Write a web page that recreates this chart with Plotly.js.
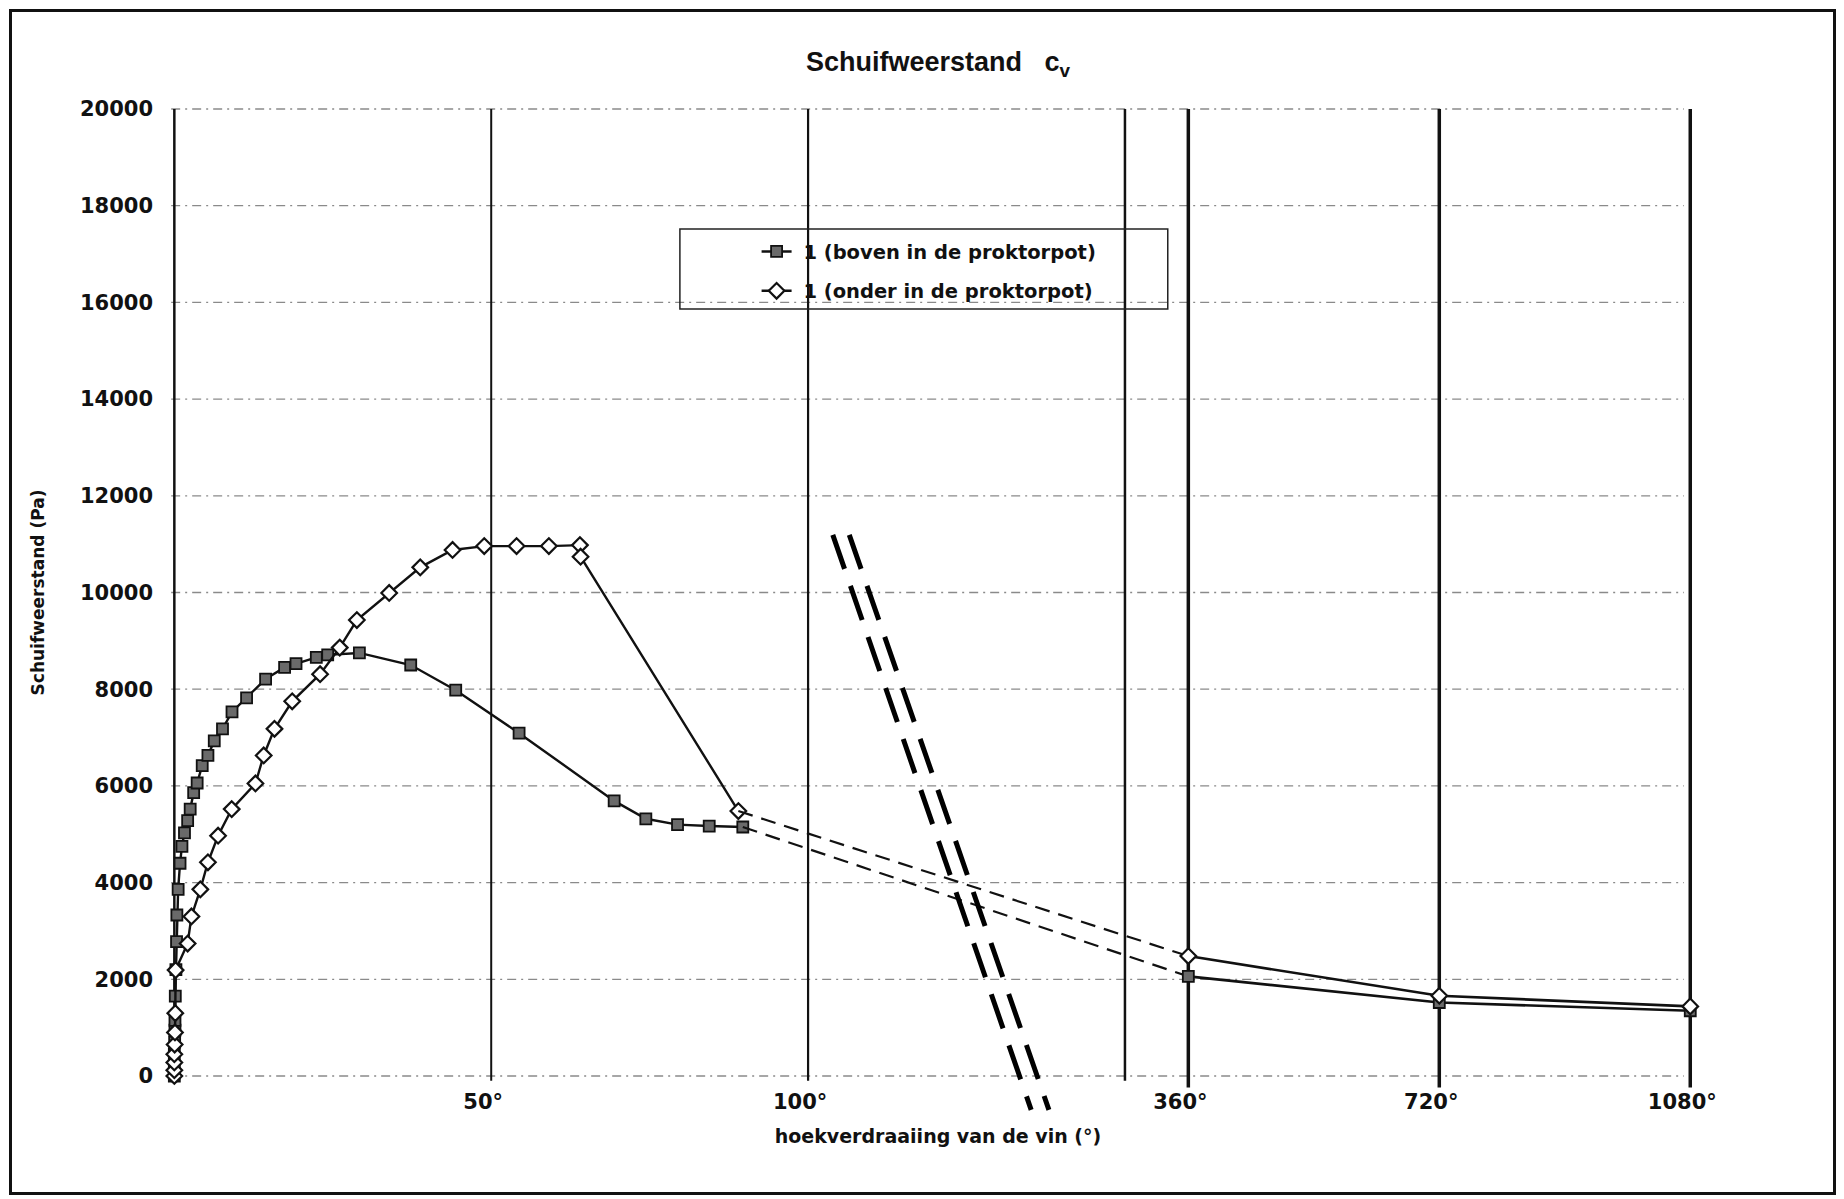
<!DOCTYPE html>
<html>
<head>
<meta charset="utf-8">
<script src="https://cdn.plot.ly/plotly-3.0.1.min.js"></script>
<style>
  html, body { margin: 0; padding: 0; background: #fff; }
  #chart { width: 1844px; height: 1199px; }
  #frame { position: absolute; left: 9px; top: 9px; width: 1827px; height: 1186px;
           box-sizing: border-box; border: 3px solid #111; pointer-events: none; }
</style>
</head>
<body>
<div id="chart"></div>
<div id="frame"></div>
<script>
// ---------------- data ----------------
// series 1: boven in de proktorpot (squares)
const angleBoven = [0, 0, 0, 0.05, 0.1, 0.1, 0.15, 0.25, 0.35, 0.4,
                    0.6, 0.9, 1.2, 1.6, 2.1, 2.5, 3.05, 3.6, 4.4, 5.3,
                    6.3, 7.6, 9.1, 11.4, 14.4, 17.4, 19.2, 22.4, 24.2, 29.2,
                    37.3, 44.4, 54.4, 69.4, 74.4, 79.4, 84.4, 89.7,
                    360, 720, 1080];
const shearBoven = [0, 200, 450, 700, 950, 1150, 1650, 2200, 2780, 3330,
                    3860, 4400, 4750, 5030, 5280, 5520, 5860, 6060, 6420, 6630,
                    6930, 7180, 7530, 7820, 8210, 8450, 8530, 8660, 8710, 8750,
                    8500, 7980, 7090, 5690, 5320, 5200, 5170, 5150,
                    2060, 1520, 1350];
// series 2: onder in de proktorpot (diamonds)
const angleOnder = [0, 0, 0, 0, 0.05, 0.1, 0.15, 0.2,
                    2.1, 2.7, 4.1, 5.3, 6.9, 9.05, 12.8, 14.1, 15.8, 18.6,
                    23.0, 26.1, 28.8, 33.9, 38.8, 43.9, 48.9, 54.0, 59.1, 64.0,
                    64.1, 89.0,
                    360, 720, 1080];
const shearOnder = [0, 120, 280, 450, 650, 900, 1300, 2190,
                    2740, 3300, 3860, 4420, 4970, 5520, 6050, 6630, 7180, 7750,
                    8310, 8860, 9430, 9990, 10520, 10880, 10960, 10960, 10960, 10980,
                    10740, 5480,
                    2480, 1660, 1440];
const seriesNames = ['1 (boven in de proktorpot)', '1 (onder in de proktorpot)'];

// axis ticks
const yTicks = [0, 2000, 4000, 6000, 8000, 10000, 12000, 14000, 16000, 18000, 20000];
const yTickText = ['0', '2000', '4000', '6000', '8000', '10000', '12000', '14000', '16000', '18000', '20000'];
const angleTicks = [50, 100, 360, 720, 1080];
const angleTickText = ['50°', '100°', '360°', '720°', '1080°'];
const lineAngles = [0, 50, 100, 360, 720, 1080];
const breakPos = 150;          // axis position of the break line

// ---------------- broken angle scale ----------------
// 0..100 deg linear, then 360/720/1080 after the break (39.6 units per 360 deg)
function axisPos(deg) { return deg <= 100 ? deg : 160 + (deg - 360) * 0.11; }
const Y_MIN = 0, Y_MAX = 20000;
function yPaper(v) { return (v - Y_MIN) / (Y_MAX - Y_MIN); }

function split(ang, val) {
  const pre = {x: [], y: []}, post = {x: [], y: []};
  ang.forEach((a, i) => {
    const t = a <= 100 ? pre : post;
    t.x.push(axisPos(a)); t.y.push(val[i]);
  });
  return {pre, post};
}

const FONT = 'DejaVu Sans, sans-serif';
const styles = [
  {marker: {symbol: 'square', size: 11, color: '#6a6a6a', line: {color: '#111', width: 1.8}}},
  {marker: {symbol: 'diamond', size: 12, color: '#ffffff', line: {color: '#111', width: 2.2}}}
];

const traces = [];
[[angleBoven, shearBoven], [angleOnder, shearOnder]].forEach((s, k) => {
  const p = split(s[0], s[1]);
  traces.push({x: p.pre.x, y: p.pre.y, mode: 'lines+markers', name: '&nbsp;' + seriesNames[k],
    legendgroup: 'g' + k, line: {color: '#111', width: 2.4}, marker: styles[k].marker,
    cliponaxis: false});
  traces.push({x: [p.pre.x[p.pre.x.length - 1], p.post.x[0]],
    y: [p.pre.y[p.pre.y.length - 1], p.post.y[0]], mode: 'lines', showlegend: false,
    legendgroup: 'g' + k, line: {color: '#111', width: 2.2, dash: '15px,9px'}, cliponaxis: false});
  traces.push({x: p.post.x, y: p.post.y, mode: 'lines+markers', showlegend: false,
    legendgroup: 'g' + k, line: {color: '#111', width: 2.6}, marker: styles[k].marker,
    cliponaxis: false});
});

// ---------------- shapes: grid, vertical lines, break symbol, legend box ----------------
const shapes = [];
yTicks.forEach(v => shapes.push({type: 'line', xref: 'x', yref: 'paper', layer: 'below',
  x0: -0.5, x1: axisPos(1080) - 1, y0: yPaper(v), y1: yPaper(v),
  line: {color: '#8a8a8a', width: 1.3, dash: '9px,5px,2px,5px'}}));
const lineWidths = {0: 2.5, 50: 2, 100: 2.2, 360: 3.5, 720: 3.5, 1080: 3.5};
lineAngles.forEach(a => shapes.push({type: 'line', xref: 'x', yref: 'paper', layer: 'below',
  x0: axisPos(a), x1: axisPos(a), y0: a >= 360 ? -0.012 : -0.005, y1: 1,
  line: {color: '#111', width: lineWidths[a]}}));
shapes.push({type: 'line', xref: 'x', yref: 'paper', layer: 'below',
  x0: breakPos, x1: breakPos, y0: -0.005, y1: 1, line: {color: '#111', width: 2.5}});
// break symbol (double dashed diagonal)
const breakMarks = [[103.9, 11192, 135.2, -700], [106.5, 11192, 138.0, -700]];
breakMarks.forEach(b => shapes.push({type: 'line', xref: 'x', yref: 'paper',
  x0: b[0], y0: yPaper(b[1]), x1: b[2], y1: yPaper(b[3]),
  line: {color: '#000', width: 5, dash: '36px,18px'}}));
// legend frame
shapes.push({type: 'rect', xref: 'paper', yref: 'paper', x0: 0.3324, x1: 0.6492,
  y0: 0.7932, y1: 0.8759, line: {color: '#222', width: 1.5}, fillcolor: 'rgba(0,0,0,0)'});

const layout = {
  width: 1844, height: 1199,
  margin: {l: 167.66, r: 135.7, t: 109, b: 123, autoexpand: false},
  paper_bgcolor: '#fff', plot_bgcolor: '#fff',
  font: {family: FONT, color: '#111'},
  title: {text: 'Schuifweerstand&nbsp;&nbsp; c<sub>v</sub>', x: 0.5, xref: 'paper',
    y: 1 - 62 / 1199, yanchor: 'middle',
    font: {family: 'Liberation Sans, Arial, sans-serif', size: 27, weight: 'bold', color: '#111'}},
  xaxis: {range: [-1, 242], showgrid: false, zeroline: false, showline: false,
    tickmode: 'array', tickvals: angleTicks.map(axisPos), ticktext: angleTickText,
    ticks: '', ticklabelshift: -8, ticklabelstandoff: 11,
    tickfont: {family: FONT, size: 21, weight: 'bold', color: '#111'},
    title: {text: 'hoekverdraaiing van de vin (°)', standoff: 16,
      font: {family: FONT, size: 19, weight: 'bold', color: '#111'}},
    automargin: false},
  yaxis: {range: [Y_MIN, Y_MAX], showgrid: false, zeroline: false, showline: false,
    tickmode: 'array', tickvals: yTicks, ticktext: yTickText, ticks: '', ticklabelstandoff: 14,
    tickfont: {family: FONT, size: 21, weight: 'bold', color: '#111'},
    title: {text: 'Schuifweerstand (Pa)', standoff: 30,
      font: {family: FONT, size: 17, weight: 'bold', color: '#111'}},
    automargin: false},
  showlegend: true,
  legend: {x: 0.3822, y: 0.8725, xanchor: 'left', yanchor: 'top', bgcolor: 'rgba(0,0,0,0)',
    borderwidth: 0, tracegroupgap: 11, traceorder: 'grouped',
    font: {family: FONT, size: 19.5, weight: 'bold', color: '#111'}},
  shapes: shapes
};

Plotly.newPlot('chart', traces, layout, {displayModeBar: false, staticPlot: true});
</script>
</body>
</html>
